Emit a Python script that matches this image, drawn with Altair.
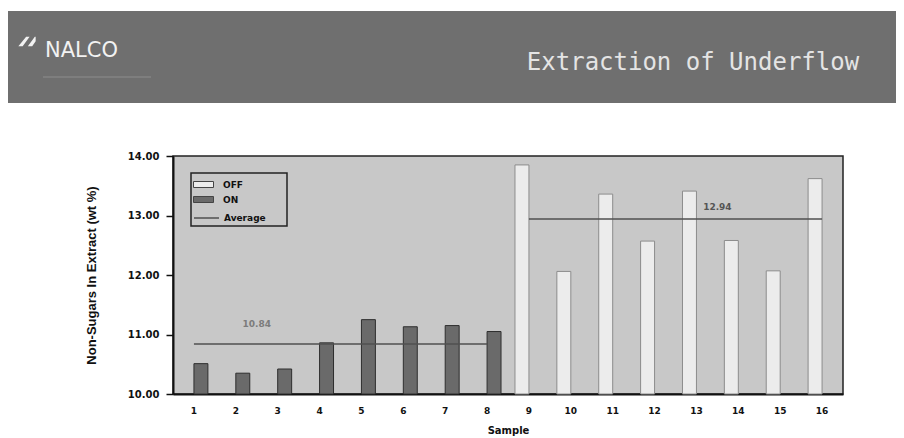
import altair as alt
import pandas as pd

# ---- data ----
samples = [str(i) for i in range(1, 17)]
series = ["ON"] * 8 + ["OFF"] * 8
values = [10.51, 10.35, 10.42, 10.86, 11.25, 11.13, 11.15, 11.05,
          13.85, 12.06, 13.36, 12.57, 13.41, 12.58, 12.07, 13.62]
averages = [10.84] * 8 + [12.94] * 8
y_ticks = [10, 11, 12, 13, 14]
y_base = 10
avg_label_text = ["10.84", "12.94"]
avg_label_at = ["3", "14"]
avg_label_val = [10.84, 12.94]
series_order = ["OFF", "ON"]
line_name = "Average"

banner_title = "Extraction of Underflow"
brand = "NALCO"

df = pd.DataFrame({"Sample": samples, "Series": series, "Value": values,
                   "Average": averages, "Line": [line_name] * len(samples)})
lab_df = pd.DataFrame({"Sample": avg_label_at, "Average": avg_label_val, "Label": avg_label_text})

LABEL_FONT = "DejaVu Sans"
TITLE_FONT = "Liberation Sans"

x_enc = alt.X(
    "Sample:N",
    scale=alt.Scale(domain=samples, paddingInner=0, paddingOuter=0),
    axis=alt.Axis(
        labelAngle=0, ticks=False, labelPadding=12, domainColor="#111", domainWidth=2,
        labelFont=LABEL_FONT, labelFontWeight="bold", labelFontSize=9, labelColor="#111",
        titleFont=LABEL_FONT, titleFontWeight="bold", titleFontSize=10, titleColor="#111",
        titleY=36, titleBaseline="middle",
    ),
    title="Sample",
)

y_enc = alt.Y(
    "Value:Q",
    scale=alt.Scale(domain=[10, 14], nice=False, zero=False),
    axis=alt.Axis(
        values=y_ticks, format=".2f", grid=False, domainColor="#111", domainWidth=2,
        tickColor="#111", tickWidth=1.5, tickSize=7, labelPadding=7,
        labelFont=LABEL_FONT, labelFontWeight="bold", labelFontSize=10, labelColor="#111",
        titleFont=TITLE_FONT, titleFontWeight="bold", titleFontSize=13, titleColor="#111",
        titleAngle=270, titleX=-82, titleY=119, titleAlign="center", titleBaseline="middle",
    ),
    title="Non-Sugars In Extract (wt %)",
)

bars = alt.Chart(df).mark_bar(strokeWidth=1).encode(
    x=x_enc,
    xOffset=alt.XOffset("Series:N", scale=alt.Scale(domain=series_order, paddingInner=0, paddingOuter=0.5)),
    y=y_enc,
    y2=alt.datum(y_base),
    fill=alt.Fill(
        "Series:N",
        scale=alt.Scale(domain=series_order, range=["#ececec", "#6a6a6a"]),
        legend=alt.Legend(
            orient="none", legendX=22, legendY=20, title=None, padding=0,
            symbolType="M-1.25,-0.375H1.25V0.375H-1.25Z", symbolSize=256,
            symbolStrokeColor="#444", symbolStrokeWidth=1, rowPadding=1, labelOffset=11,
            labelFont=LABEL_FONT, labelFontWeight="bold", labelFontSize=9, labelColor="#111",
        ),
    ),
    stroke=alt.condition(alt.datum.Series == "ON", alt.value("#2e2e2e"), alt.value("#8c8c8c")),
)

line = alt.Chart(df).mark_line(strokeWidth=1.5).encode(
    x=alt.X("Sample:N"),
    y=alt.Y("Average:Q"),
    detail="Series:N",
    stroke=alt.Stroke(
        "Line:N",
        scale=alt.Scale(domain=[line_name], range=["#505050"]),
        legend=alt.Legend(
            orient="none", legendX=20, legendY=48.5, title=None, padding=0,
            symbolType="stroke", symbolSize=625, symbolStrokeWidth=1.5, labelOffset=4,
            labelFont=LABEL_FONT, labelFontWeight="bold", labelFontSize=9, labelColor="#111",
        ),
    ),
)

lab_left = alt.Chart(lab_df).transform_filter(alt.datum.Sample == avg_label_at[0]).mark_text(
    dy=-20, font=LABEL_FONT, fontWeight="bold", fontSize=9, color="#7c7c7c"
).encode(x=alt.X("Sample:N", bandPosition=0), y="Average:Q", text="Label:N")

lab_right = alt.Chart(lab_df).transform_filter(alt.datum.Sample == avg_label_at[1]).mark_text(
    dy=-12, font=LABEL_FONT, fontWeight="bold", fontSize=9, color="#555555"
).encode(x=alt.X("Sample:N", bandPosition=0), y="Average:Q", text="Label:N")

one = alt.Data(values=[{}])

legend_frame = alt.Chart(one).mark_rect(fillOpacity=0, stroke="#222", strokeWidth=1.5).encode(
    x=alt.value(18), x2=alt.value(114), y=alt.value(17), y2=alt.value(70)
)

banner = alt.Chart(one).mark_rect(fill="#6f6f6f").encode(
    x=alt.value(-166), x2=alt.value(724), y=alt.value(-145), y2=alt.value(-53)
)

title_txt = alt.Chart(one).mark_text(
    font="DejaVu Sans Mono", fontSize=24, color="#e4e4e4", align="center", baseline="middle",
    text=banner_title,
).encode(x=alt.value(520), y=alt.value(-93))

brand_txt = alt.Chart(one).mark_text(
    font=LABEL_FONT, fontSize=21, color="#f2f2f2", align="left", baseline="middle", text=brand,
).encode(x=alt.value(-128), y=alt.value(-105))

tagline_hint = alt.Chart(one).mark_rule(stroke="#8a8a8a", strokeWidth=1.5, opacity=0.8).encode(
    x=alt.value(-130), x2=alt.value(-22), y=alt.value(-79)
)

logo = alt.Chart(one).mark_point(
    shape="M-1,0.5L-0.1,-0.6L0.3,-0.6L-0.5,0.5Z M0.1,0.5L0.9,-0.6L1,-0.6L1,-0.1L0.6,0.5Z",
    filled=True, fill="#f2f2f2", size=300, opacity=1,
).encode(x=alt.value(-146), y=alt.value(-114))

chart = alt.layer(
    banner, logo, brand_txt, tagline_hint, title_txt, bars, line, lab_left, lab_right, legend_frame
).properties(
    width=670, height=238,
    padding={"left": 165, "top": 148, "right": 53, "bottom": 42},
    autosize=alt.AutoSizeParams(type="none"),
    background="white",
).configure_view(fill="#c8c8c8", stroke="#222222", strokeWidth=1.5)

chart.save("out.html", embed_options={"renderer": "svg", "actions": False})
